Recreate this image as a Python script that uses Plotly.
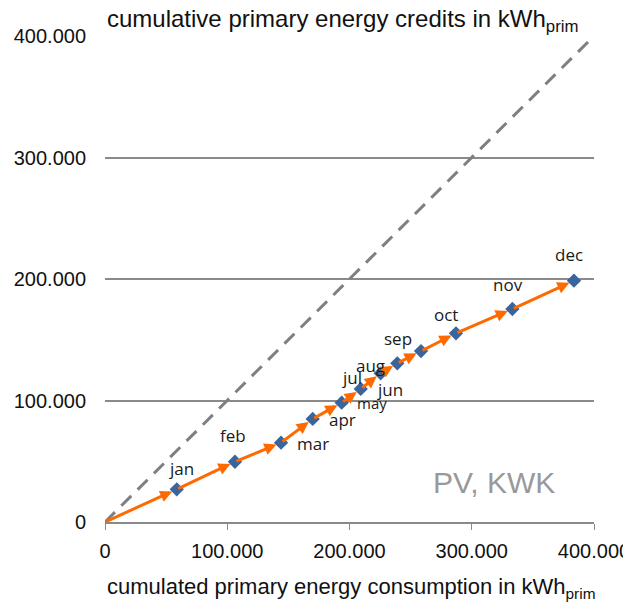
import plotly.graph_objects as go

months = ["jan", "feb", "mar", "apr", "may", "jun", "jul", "aug", "sep", "oct", "nov", "dec"]
consumption = [58700, 106300, 144000, 169900, 193600, 209200, 225500, 239100, 258500, 287100, 333200, 383600]
credits = [26900, 49600, 65300, 84800, 98200, 109500, 122400, 130600, 140700, 155300, 175300, 198600]
ref_x = [0, 400000]
ref_y = [0, 400000]
x_ticks = [0, 100000, 200000, 300000, 400000]
y_ticks = [0, 100000, 200000, 300000, 400000]

# label offsets in pixels (style only)
label_dx = [5, -2, 32, 30, 30, 29, -29, -27, -23, -10, -4, -5]
label_dy = [21, 26, -1, -1, 0, -1, -4, -2, 13, 19, 25, 26]
label_size = [17, 17, 17, 17, 15, 17, 17, 17, 17, 17, 17, 17]

ORANGE = "#FF6A00"
BLUE = "#3A659C"
GRID = "#8A8A8A"
TXT = "Liberation Sans, Arial, sans-serif"

fig = go.Figure()
fig.add_trace(go.Scatter(x=ref_x, y=ref_y, mode="lines",
                         line=dict(color="#7F7F7F", width=3, dash="14px,9px"),
                         hoverinfo="skip", showlegend=False))

annotations = []
px, py = 0, 0
for x, y in zip(consumption, credits):
    annotations.append(dict(x=x, y=y, ax=px, ay=py, xref="x", yref="y",
                            axref="x", ayref="y", showarrow=True, arrowhead=2,
                            arrowsize=0.8, arrowwidth=3, arrowcolor=ORANGE,
                            standoff=5, text=""))
    px, py = x, y

fig.add_trace(go.Scatter(x=consumption, y=credits, mode="markers",
                         marker=dict(symbol="diamond", size=11, color=BLUE),
                         showlegend=False))

for m, x, y, dx, dy, s in zip(months, consumption, credits, label_dx, label_dy, label_size):
    annotations.append(dict(x=x, y=y, xref="x", yref="y", text=m, showarrow=False,
                            xshift=dx, yshift=dy,
                            font=dict(family="Open Sans, sans-serif", size=s, color="#1a1a1a")))
annotations.append(dict(x=0, y=1, xref="paper", yref="paper", xanchor="left", yanchor="bottom",
                        yshift=-2, xshift=0, showarrow=False,
                        text="cumulative primary energy credits in kWh<sub>prim</sub>",
                        font=dict(family=TXT, size=24, color="#111")))
annotations.append(dict(x=0, y=0, xref="paper", yref="paper", xanchor="left", yanchor="top",
                        yshift=-50, xshift=0, showarrow=False,
                        text="cumulated primary energy consumption in kWh<sub>prim</sub>",
                        font=dict(family=TXT, size=22, color="#111")))
annotations.append(dict(x=0.924, y=0.082, xref="paper", yref="paper", xanchor="right", yanchor="middle",
                        showarrow=False, text="PV, KWK",
                        font=dict(family=TXT, size=30, color="#999999")))

fig.update_layout(
    width=623, height=595,
    margin=dict(l=97, r=37, t=28, b=81, autoexpand=False),
    plot_bgcolor="white", paper_bgcolor="white",
    separators=",.",
    annotations=annotations,
    font=dict(family=TXT, size=20, color="#111"),
)
fig.update_xaxes(range=[0, 400000], tickvals=x_ticks, tickformat=",d",
                 showgrid=False, zeroline=False, showline=True, linecolor=GRID, linewidth=1.5,
                 ticks="outside", ticklen=6, tickcolor=GRID, ticklabelstandoff=4)
fig.update_yaxes(range=[0, 400000], tickvals=y_ticks, tickformat=",d",
                 showgrid=True, gridcolor=GRID, gridwidth=1.5, zeroline=False, showline=False,
                 ticks="", ticklabelstandoff=18)
fig.write_html("out.html")
